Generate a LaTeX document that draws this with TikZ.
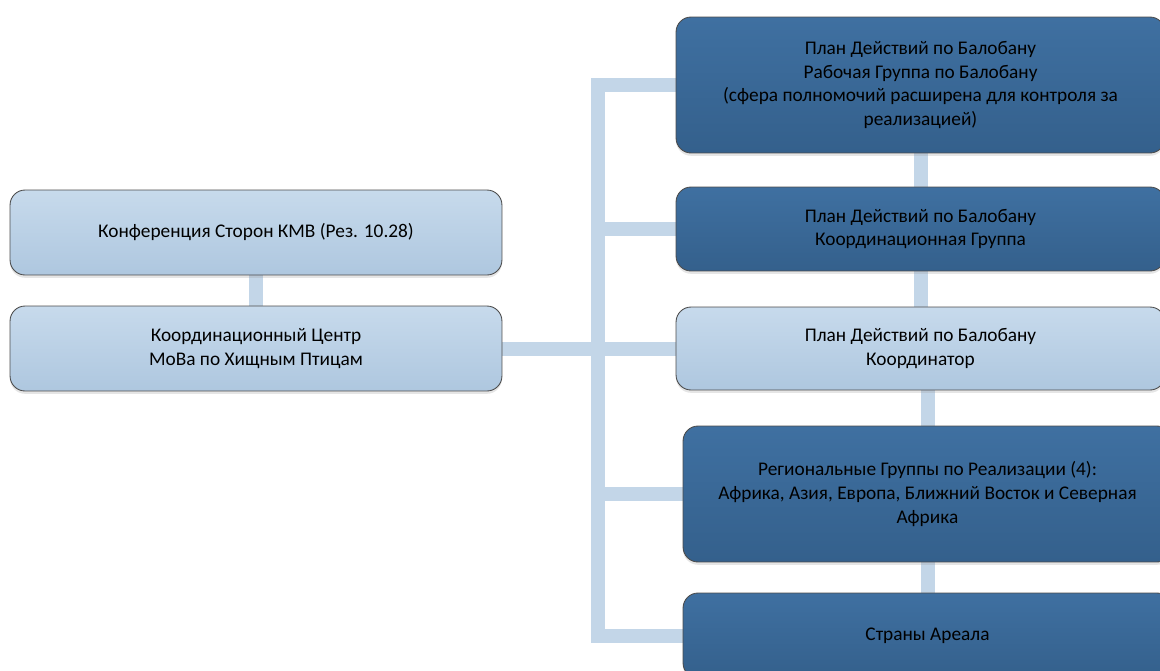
\documentclass[tikz,border=0pt]{standalone}
\usepackage{fontspec}
\setmainfont{Carlito}
\usetikzlibrary{shadows,backgrounds}

\definecolor{darktop}{HTML}{3F70A1}
\definecolor{darkbot}{HTML}{34608C}
\definecolor{lighttop}{HTML}{C7DAEC}
\definecolor{lightbot}{HTML}{AEC7DF}
\definecolor{connblue}{HTML}{C3D6E8}

\tikzset{
    box/.style={draw=black!70, line width=0.5pt, rounded corners=0.3cm, align=center,
        inner sep=0pt, font=\fontsize{11}{13.4}\selectfont,
        drop shadow={shadow xshift=0pt, shadow yshift=-1.6pt, opacity=0.25, fill=black!40}},
    darkbox/.style={box, top color=darktop, bottom color=darkbot},
    lightbox/.style={box, top color=lighttop, bottom color=lightbot},
    conn/.style={draw=connblue, line width=0.28cm}
}

\begin{document}
\begin{tikzpicture}[x=0.02cm, y=-0.02cm]

        \clip (0,0) rectangle (1160,670);

        % left side
        \node[lightbox, minimum width=9.84cm, minimum height=1.7cm] (conf) at (256,232.5)
            {Конференция Сторон КМВ (Рез. 10.28)};
        \node[lightbox, minimum width=9.84cm, minimum height=1.7cm] (centre) at (256,348.5)
            {Координационный Центр\\МоВа по Хищным Птицам};

        % right side
        \node[darkbox, minimum width=9.78cm, minimum height=2.72cm] (wgroup) at (920.5,85)
            {План Действий по Балобану\\Рабочая Группа по Балобану\\(сфера полномочий расширена для контроля за\\реализацией)};
        \node[darkbox, minimum width=9.78cm, minimum height=1.68cm] (cgroup) at (920.5,229)
            {План Действий по Балобану\\Координационная Группа};
        \node[lightbox, minimum width=9.78cm, minimum height=1.66cm] (coord) at (920.5,348.5)
            {План Действий по Балобану\\Координатор};
        \node[darkbox, minimum width=9.78cm, minimum height=2.72cm] (regions) at (927.5,494)
            {Региональные Группы по Реализации (4):\\Африка, Азия, Европа, Ближний Восток и Северная\\Африка};
        \node[darkbox, minimum width=9.78cm, minimum height=1.7cm] (states) at (927.5,635.5)
            {Страны Ареала};

        \coordinate (trunk) at (598,348.5);

        \begin{scope}[on background layer]
            \draw[conn] (conf) -- (centre);
            \draw[conn] (centre.east) -- (coord.west);
            \draw[conn] (wgroup.west) -| (trunk |- states.west) -- (states.west);
            \draw[conn] (trunk |- cgroup.west) -- (cgroup.west);
            \draw[conn] (trunk |- regions.west) -- (regions.west);
            \draw[conn] (wgroup) -- (cgroup);
            \draw[conn] (cgroup) -- (coord);
            \draw[conn] (regions.north) -- (regions.north |- coord.south);
            \draw[conn] (regions) -- (states);
        \end{scope}
    \end{tikzpicture}
\end{document}
